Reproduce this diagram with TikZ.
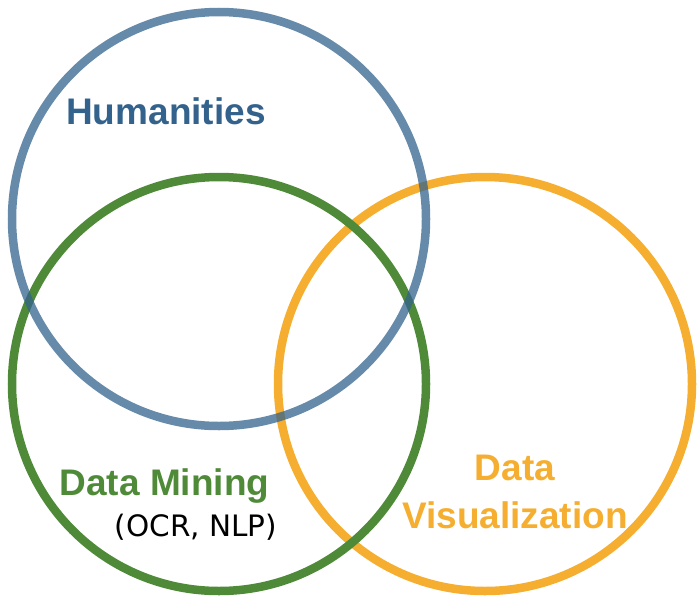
\documentclass[tikz,border=0pt]{standalone}
\usepackage{fontspec}
\setmainfont{Liberation Sans}
\newfontfamily\dejavu{DejaVu Sans}

\definecolor{humblue}{HTML}{33638C}
\definecolor{minegreen}{HTML}{4E8A38}
\definecolor{visorange}{HTML}{F5AE30}

\begin{document}
\begin{tikzpicture}[x=1pt, y=-1pt,
    ring/.style={line width=8.5pt},
    biglabel/.style={anchor=base, font=\fontsize{37}{40}\selectfont\bfseries, inner sep=0pt},
    smalllabel/.style={anchor=base, font=\dejavu\fontsize{29.5}{32}\selectfont, inner sep=0pt}]

    \useasboundingbox (0,0) rectangle (698,597);

    % orange below, blue see-through on top
    \draw[ring, visorange] (485,384) circle (207);
    \draw[ring, minegreen] (219,384) circle (207);
    \draw[ring, humblue, draw opacity=.75] (219,219) circle (207);

    \node[biglabel, text=humblue] (hum) at (166,124) {Humanities};

    \node[biglabel, text=minegreen] (mine) at (164.5,495) {Data Mining};
    \node[smalllabel] (ocr) at (196,536) {(OCR, NLP)};

    \node[biglabel, text=visorange] (vis1) at (515,480) {Data};
    \node[biglabel, text=visorange] (vis2) at (515,528) {Visualization};

\end{tikzpicture}
\end{document}
